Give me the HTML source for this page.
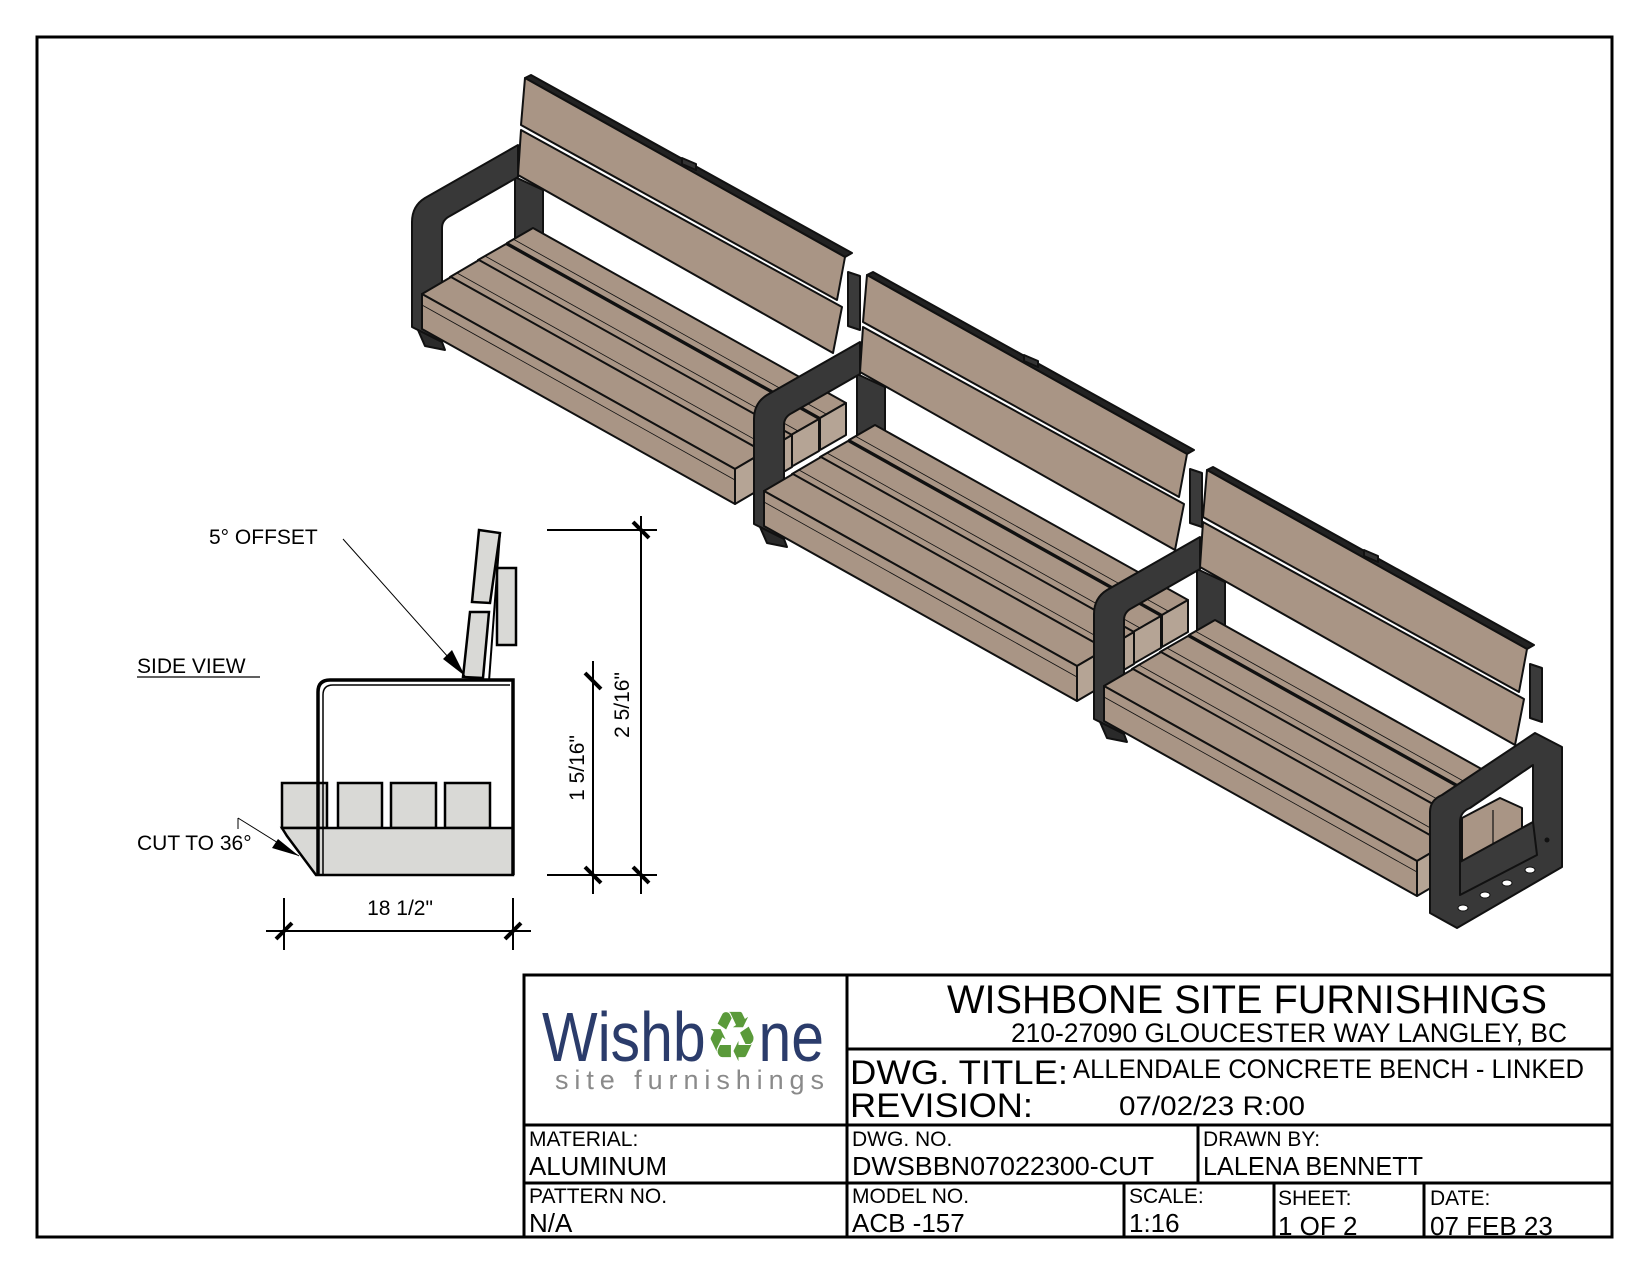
<!DOCTYPE html>
<html><head><meta charset="utf-8"><style>
html,body{margin:0;padding:0;background:#fff;}
svg{display:block;}
text{font-family:"Liberation Sans","DejaVu Sans",sans-serif;fill:#000;}
</style></head><body>
<svg width="1650" height="1275" viewBox="0 0 1650 1275" xmlns="http://www.w3.org/2000/svg">
<defs>
<g id="mod" stroke="#111" stroke-width="2" stroke-linejoin="round">
  <polygon points="521,130 842,307 833,353 518,175" fill="#a99585"/>
  <polygon points="525,78 531,75 852,253 845,257" fill="#222"/>
  <polygon points="525,78 845,257 837,300 521,125" fill="#a99585"/>
  <polygon points="682,158 696,164 696,170 682,164" fill="#333"/>
  <polygon points="848,272 860,276 860,330 848,326" fill="#3a3a3a"/>
  <polygon points="515,177 543,190 543,242 515,240" fill="#383838"/>
  <path d="M518,145 L425,198 Q412,206 412,222 L412,327 L442,342 L442,228 Q442,220 450,216 L518,177 Z" fill="#383838"/>
  <polygon points="418,330 442,342 445,350 425,346" fill="#2a2a2a"/>
  <polygon points="507,243 533,228 846,403 820,418" fill="#a99585"/>
  <polygon points="820,418 846,403 846,435 820,450" fill="#b5a495"/>
  <polygon points="478,260 506,244 819,419 791,435" fill="#a99585"/>
  <polygon points="791,435 819,419 819,451 791,467" fill="#b5a495"/>
  <polygon points="450,277 479,260 792,435 763,452" fill="#a99585"/>
  <polygon points="763,452 792,435 792,467 763,484" fill="#b5a495"/>
  <polygon points="422,294 451,277 764,452 735,469" fill="#a99585"/>
  <polygon points="422,294 735,469 735,504 422,329" fill="#a99585"/>
  <polygon points="735,469 764,452 764,487 735,504" fill="#b5a495"/>
  <g stroke-width="0.8">
    <line x1="457" y1="273" x2="770" y2="448"/>
    <line x1="485" y1="256" x2="798" y2="431"/>
    <line x1="513" y1="239" x2="826" y2="414"/>
    <line x1="422" y1="305" x2="735" y2="480"/>
  </g>
</g>
</defs>

<rect x="37" y="37" width="1575" height="1200" fill="none" stroke="#000" stroke-width="3"/>

<use href="#mod"/>
<use href="#mod" transform="translate(342,197)"/>
<use href="#mod" transform="translate(682,392)"/>

<g stroke="#111" stroke-width="2" stroke-linejoin="round">
  <path d="M1442,795 L1535,733 L1562,747 L1562,867 L1457,928 L1430,913 L1430,812 Q1430,800 1442,795 Z" fill="#383838"/>
  <path d="M1470,808 L1533,765 L1533,822 L1460,862 L1460,822 Q1460,812 1470,808 Z" fill="#fff"/>
  <polygon points="1462,818 1500,798 1522,808 1522,845 1462,868" fill="#a99585"/>
  <line x1="1493" y1="810" x2="1493" y2="856" stroke-width="1.2"/>
  <polygon points="1460,862 1533,822 1537,855 1460,895" fill="#3a3a3a"/>
</g>
<g fill="#fff" stroke="#111" stroke-width="1">
  <ellipse cx="1463" cy="908" rx="5" ry="3"/>
  <ellipse cx="1485" cy="895" rx="5" ry="3"/>
  <ellipse cx="1507" cy="883" rx="5" ry="3"/>
  <ellipse cx="1530" cy="870" rx="5" ry="3"/>
</g>
<circle cx="1547" cy="840" r="2.5" fill="#111"/>

<!-- SIDE VIEW -->
<g stroke="#000" stroke-linejoin="miter">
  <polygon points="479,530 500,533 490,603 472,602" fill="#d9d9d6" stroke-width="2.5"/>
  <polygon points="470,612 489,612 483,678 463,677" fill="#d9d9d6" stroke-width="2.5"/>
  <rect x="497" y="568" width="19" height="77" fill="#d9d9d6" stroke-width="2.5"/>
  <line x1="500" y1="533" x2="489" y2="681" stroke-width="2"/>
  <rect x="282" y="783" width="45" height="45" fill="#d9d9d6" stroke-width="2.5"/>
  <rect x="338" y="783" width="44" height="45" fill="#d9d9d6" stroke-width="2.5"/>
  <rect x="391" y="783" width="45" height="45" fill="#d9d9d6" stroke-width="2.5"/>
  <rect x="445" y="783" width="45" height="45" fill="#d9d9d6" stroke-width="2.5"/>
  <polygon points="282,828 513,828 513,875 316,875 287,836" fill="#d9d9d6" stroke-width="2.5"/>
  <path d="M318,875 L318,692 Q318,680 330,680 L513,680 L513,875" fill="none" stroke-width="3.5"/>
  <path d="M323,875 L323,695 Q323,685 333,685 L510,685" fill="none" stroke-width="1.5"/>
</g>
<line x1="343" y1="539" x2="465" y2="676" stroke="#000" stroke-width="1"/>
<polygon points="465,676 443,659 452,650" fill="#000"/>
<line x1="238" y1="818" x2="238" y2="829" stroke="#000" stroke-width="1"/>
<line x1="238" y1="818" x2="299" y2="856" stroke="#000" stroke-width="1"/>
<polygon points="299,856 272,848 278,839" fill="#000"/>
<text x="209" y="544" font-size="21">5° OFFSET</text>
<text x="137" y="673" font-size="21">SIDE VIEW</text>
<line x1="137" y1="677" x2="260" y2="677" stroke="#000" stroke-width="1.2"/>
<text x="137" y="850" font-size="21">CUT TO 36°</text>

<g stroke="#000" stroke-width="2">
  <line x1="284" y1="898" x2="284" y2="950"/>
  <line x1="513" y1="898" x2="513" y2="950"/>
  <line x1="266" y1="931" x2="531" y2="931"/>
  <line x1="641" y1="516" x2="641" y2="894"/>
  <line x1="547" y1="530" x2="657" y2="530"/>
  <line x1="547" y1="875" x2="657" y2="875"/>
  <line x1="593" y1="661" x2="593" y2="894"/>
</g>
<g stroke="#000" stroke-width="4">
  <line x1="276" y1="939" x2="292" y2="923"/>
  <line x1="505" y1="939" x2="521" y2="923"/>
  <line x1="633" y1="522" x2="649" y2="538"/>
  <line x1="633" y1="867" x2="649" y2="883"/>
  <line x1="585" y1="673" x2="601" y2="689"/>
  <line x1="585" y1="867" x2="601" y2="883"/>
</g>
<text x="400" y="915" font-size="21" text-anchor="middle">18 1/2"</text>
<text transform="translate(584,768) rotate(-90)" font-size="21" text-anchor="middle">1 5/16"</text>
<text transform="translate(629,705) rotate(-90)" font-size="21" text-anchor="middle">2 5/16"</text>

<g stroke="#000" stroke-width="3" fill="none">
  <rect x="524" y="975" width="1088" height="262"/>
  <line x1="847" y1="975" x2="847" y2="1237"/>
  <line x1="847" y1="1049" x2="1612" y2="1049"/>
  <line x1="524" y1="1125" x2="1612" y2="1125"/>
  <line x1="524" y1="1183" x2="1612" y2="1183"/>
  <line x1="1198" y1="1125" x2="1198" y2="1183"/>
  <line x1="1124" y1="1183" x2="1124" y2="1237"/>
  <line x1="1274" y1="1183" x2="1274" y2="1237"/>
  <line x1="1424" y1="1183" x2="1424" y2="1237"/>
</g>
<text x="542" y="1061" font-size="70" style="fill:#2b3c6b" textLength="282" lengthAdjust="spacingAndGlyphs">Wishb<tspan style="fill:#5a9a3a">♻</tspan>ne</text>
<text x="555" y="1089" font-size="27" style="fill:#8a8a8a" textLength="269" lengthAdjust="spacing">site furnishings</text>

<text x="947" y="1013" font-size="40" textLength="600" lengthAdjust="spacingAndGlyphs">WISHBONE SITE FURNISHINGS</text>
<text x="1011" y="1042" font-size="27" textLength="556" lengthAdjust="spacingAndGlyphs">210-27090 GLOUCESTER WAY LANGLEY, BC</text>
<text x="850" y="1084" font-size="34" textLength="218" lengthAdjust="spacingAndGlyphs">DWG. TITLE:</text>
<text x="1073" y="1078" font-size="27" textLength="511" lengthAdjust="spacingAndGlyphs">ALLENDALE CONCRETE BENCH - LINKED</text>
<text x="850" y="1117" font-size="34" textLength="183" lengthAdjust="spacingAndGlyphs">REVISION:</text>
<text x="1119" y="1115" font-size="27" textLength="186" lengthAdjust="spacingAndGlyphs">07/02/23 R:00</text>

<text x="529" y="1146" font-size="21">MATERIAL:</text>
<text x="529" y="1175" font-size="26" textLength="138" lengthAdjust="spacingAndGlyphs">ALUMINUM</text>
<text x="852" y="1146" font-size="21">DWG. NO.</text>
<text x="852" y="1175" font-size="26" textLength="302" lengthAdjust="spacingAndGlyphs">DWSBBN07022300-CUT</text>
<text x="1203" y="1146" font-size="21">DRAWN BY:</text>
<text x="1203" y="1175" font-size="26" textLength="220" lengthAdjust="spacingAndGlyphs">LALENA BENNETT</text>

<text x="529" y="1203" font-size="21">PATTERN NO.</text>
<text x="529" y="1232" font-size="26">N/A</text>
<text x="852" y="1203" font-size="21">MODEL NO.</text>
<text x="852" y="1232" font-size="26">ACB -157</text>
<text x="1129" y="1203" font-size="21">SCALE:</text>
<text x="1129" y="1232" font-size="26">1:16</text>
<text x="1278" y="1205" font-size="21">SHEET:</text>
<text x="1278" y="1235" font-size="26">1 OF 2</text>
<text x="1430" y="1205" font-size="21">DATE:</text>
<text x="1430" y="1235" font-size="26">07 FEB 23</text>
</svg>
</body></html>
